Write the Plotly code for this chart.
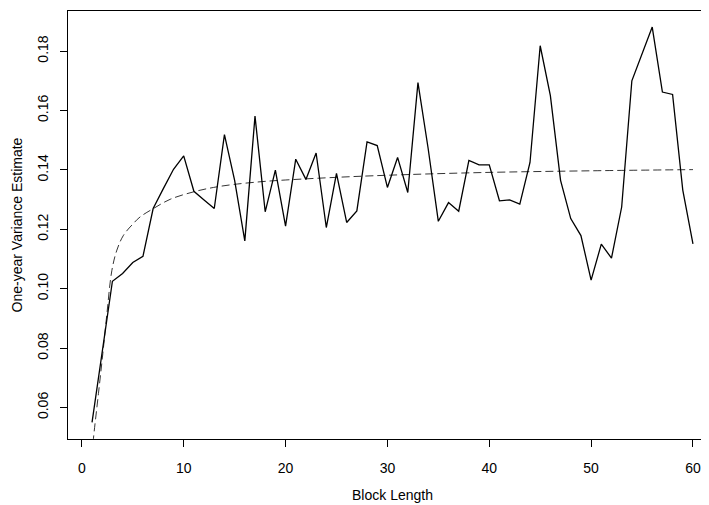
import plotly.graph_objects as go

block_length = list(range(1, 61))
variance_estimate = [
    0.0550, 0.0790, 0.1025, 0.1051, 0.1088, 0.1109, 0.1270, 0.1337, 0.1402, 0.1447,
    0.1328, 0.1299, 0.1270, 0.1519, 0.1365, 0.1161, 0.1581, 0.1259, 0.1399, 0.1211,
    0.1436, 0.1368, 0.1457, 0.1206, 0.1388, 0.1223, 0.1262, 0.1494, 0.1482, 0.1341,
    0.1442, 0.1324, 0.1694, 0.1472, 0.1227, 0.1290, 0.1261, 0.1432, 0.1417, 0.1417,
    0.1296, 0.1299, 0.1285, 0.1425, 0.1818, 0.1650, 0.1365, 0.1236, 0.1179, 0.1029,
    0.1150, 0.1103, 0.1275, 0.1700, 0.1789, 0.1881, 0.1662, 0.1654, 0.1332, 0.1151,
]

curve_x = [1.0, 1.14, 1.63, 2.06, 2.46, 2.95, 3.44, 4.09, 5.07, 5.73, 7.03, 8.67,
           10.96, 12.93, 14.9, 17.5, 19.5, 25, 30, 39.1, 50, 60]
curve_y = [0.044, 0.0496, 0.0647, 0.0782, 0.0916, 0.1062, 0.1130, 0.1180, 0.1220,
           0.1242, 0.1270, 0.1301, 0.1326, 0.1341, 0.1351, 0.1360, 0.1365, 0.1375,
           0.1382, 0.1391, 0.1397, 0.1401]

x_ticks = [0, 10, 20, 30, 40, 50, 60]
y_ticks = [0.06, 0.08, 0.10, 0.12, 0.14, 0.16, 0.18]
y_tick_labels = ["0.06", "0.08", "0.10", "0.12", "0.14", "0.16", "0.18"]

font = dict(family="Liberation Sans, Arial, sans-serif", size=14, color="black")

fig = go.Figure()
fig.add_trace(go.Scatter(x=curve_x, y=curve_y, mode="lines", line_shape="spline",
                         line=dict(color="black", width=0.8, dash="8px,4px"),
                         hoverinfo="skip", showlegend=False))
fig.add_trace(go.Scatter(x=block_length, y=variance_estimate, mode="lines",
                         line=dict(color="black", width=1.3), showlegend=False))

fig.update_layout(
    width=709, height=505,
    margin=dict(l=60, r=0, t=3, b=74),
    paper_bgcolor="white", plot_bgcolor="white",
    font=font,
    xaxis=dict(range=[-1.36, 62.36], tickvals=x_ticks, ticks="outside", ticklen=7,
               tickwidth=1, tickcolor="black", showline=True, linecolor="black",
               linewidth=1, mirror=True, showgrid=False, zeroline=False,
               ticklabelstandoff=9, automargin=False,
               title=dict(text="Block Length", font=font, standoff=15)),
    yaxis=dict(range=[0.0494, 0.1935], tickvals=y_ticks, ticktext=y_tick_labels,
               tickangle=-90, ticks="outside", ticklen=7, tickwidth=1,
               tickcolor="black", showline=True, linecolor="black", linewidth=1,
               showgrid=False, zeroline=False, ticklabelstandoff=6, automargin=False,
               title=dict(text="One-year Variance Estimate", font=font, standoff=9)),
)

fig.write_html("out.html")
